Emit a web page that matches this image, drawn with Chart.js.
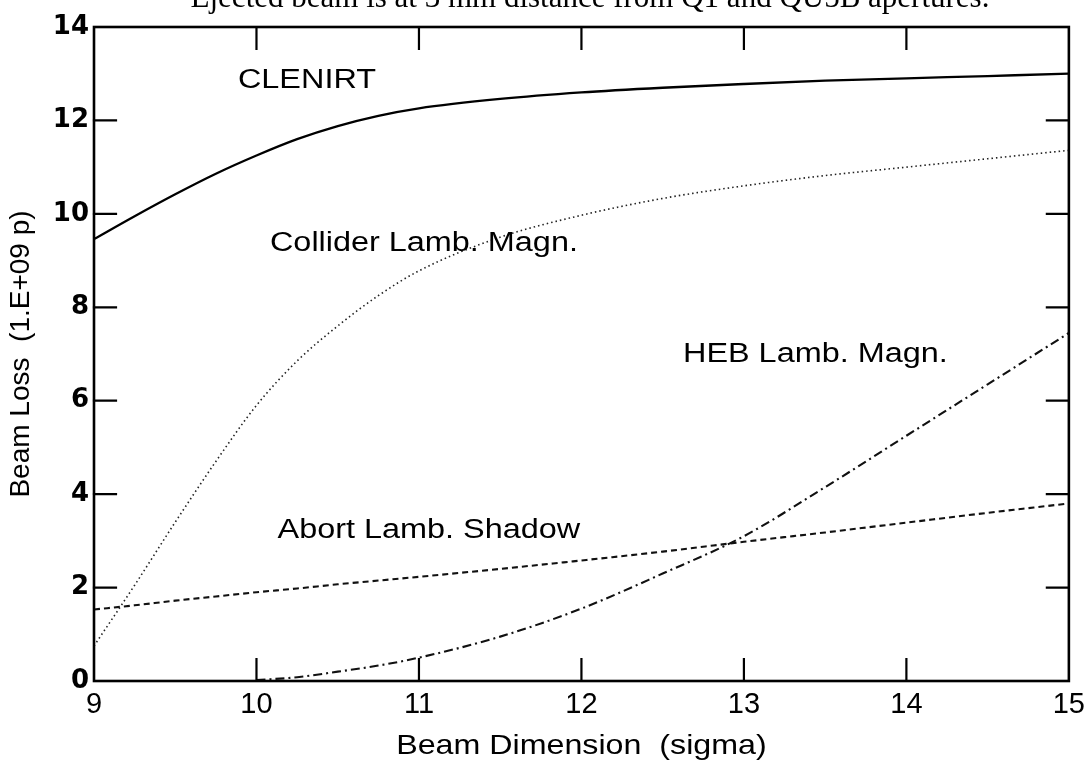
<!DOCTYPE html>
<html>
<head>
<meta charset="utf-8">
<script src="https://cdn.jsdelivr.net/npm/chart.js@4/dist/chart.umd.min.js"></script>
<style>
  html, body { margin: 0; padding: 0; background: #fff; }
  #wrap { width: 1092px; height: 767px; position: relative; }
</style>
</head>
<body>
<div id="wrap"><canvas id="c" width="1092" height="767"></canvas></div>
<script>
// Beam dimension grid (sigma)
const sigma = [9, 9.25, 9.5, 9.75, 10, 10.25, 10.5, 10.75, 11, 11.5, 12, 12.5, 13, 13.5, 14, 14.5, 15];

// Beam loss in units of 1.E+09 protons
const clenirt  = [9.46, 9.95, 10.42, 10.86, 11.25, 11.6, 11.88, 12.1, 12.26, 12.46, 12.6, 12.7, 12.78, 12.85, 12.9, 12.95, 13.0];
const collider = [0.75, 2.05, 3.4, 4.7, 5.9, 6.85, 7.6, 8.25, 8.78, 9.5, 9.97, 10.33, 10.6, 10.82, 11.0, 11.18, 11.36];
const hebMagn  = [null, null, null, null, 0.02, 0.08, 0.2, 0.33, 0.5, 0.95, 1.55, 2.3, 3.1, 4.15, 5.25, 6.35, 7.45];
const abortSh  = [1.53, 1.62, 1.72, 1.81, 1.9, 1.98, 2.07, 2.15, 2.23, 2.4, 2.58, 2.77, 2.98, 3.18, 3.39, 3.6, 3.8];

const xTicks = [9, 10, 11, 12, 13, 14, 15];
const yTicks = [0, 2, 4, 6, 8, 10, 12, 14];

const title = 'Ejected beam is at 3 mm distance from Q1 and QU5B apertures.';
const xTitle = 'Beam Dimension  (sigma)';
const yTitle = 'Beam Loss  (1.E+09 p)';

// Curve captions, anchored in data coordinates (left edge, baseline)
const captions = [
  { text: 'CLENIRT',              x: 9.886,  y: 12.69 },
  { text: 'Collider Lamb. Magn.', x: 10.083, y: 9.2 },
  { text: 'HEB Lamb. Magn.',      x: 12.625, y: 6.82 },
  { text: 'Abort Lamb. Shadow',   x: 10.13,  y: 3.06 }
];

function pts(ys) { return sigma.map((x, i) => ({ x: x, y: ys[i] })); }

function stretchText(ctx, text, x, y, font, sx, align) {
  ctx.save();
  ctx.font = font;
  ctx.textAlign = align || 'left';
  ctx.translate(x, y);
  ctx.scale(sx, 1);
  ctx.fillText(text, 0, 0);
  ctx.restore();
}

// Frame with inward ticks on all four sides, titles and captions
const framePlugin = {
  id: 'frame',
  afterDraw(chart) {
    const ctx = chart.ctx;
    const a = chart.chartArea;
    const xs = chart.scales.x, ys = chart.scales.y;
    const tl = 22;
    ctx.save();
    ctx.strokeStyle = '#000';
    ctx.lineCap = 'square';
    ctx.lineWidth = 2.6;
    ctx.strokeRect(a.left, a.top, a.right - a.left, a.bottom - a.top);
    ctx.lineWidth = 2.2;
    ctx.beginPath();
    xTicks.slice(1, -1).forEach(v => {
      const px = xs.getPixelForValue(v);
      ctx.moveTo(px, a.bottom); ctx.lineTo(px, a.bottom - tl);
      ctx.moveTo(px, a.top);    ctx.lineTo(px, a.top + tl);
    });
    yTicks.slice(1, -1).forEach(v => {
      const py = ys.getPixelForValue(v);
      ctx.moveTo(a.left, py);  ctx.lineTo(a.left + tl, py);
      ctx.moveTo(a.right, py); ctx.lineTo(a.right - tl, py);
    });
    ctx.stroke();

    ctx.fillStyle = '#000';
    ctx.textBaseline = 'alphabetic';
    // title, only its lower half shows at the top edge
    ctx.font = '31px "Liberation Serif", "Times New Roman", serif';
    ctx.textAlign = 'center';
    ctx.fillText(title, 590, 7);

    captions.forEach(c => {
      stretchText(ctx, c.text, xs.getPixelForValue(c.x), ys.getPixelForValue(c.y),
        '27px "Liberation Sans", Arial, sans-serif', 1.2, 'left');
    });

    // axis titles
    stretchText(ctx, xTitle, (a.left + a.right) / 2, 754,
      '28px "Liberation Sans", Arial, sans-serif', 1.15, 'center');
    ctx.save();
    ctx.translate(29, (a.top + a.bottom) / 2);
    ctx.rotate(-Math.PI / 2);
    ctx.font = '28px "Liberation Sans", Arial, sans-serif';
    ctx.textAlign = 'center';
    ctx.fillText(yTitle, 0, 0);
    ctx.restore();
    ctx.restore();
  }
};

new Chart(document.getElementById('c'), {
  type: 'line',
  data: {
    datasets: [
      { label: 'CLENIRT', data: pts(clenirt), borderColor: '#000', borderWidth: 2.3,
        pointRadius: 0, cubicInterpolationMode: 'monotone' },
      { label: 'Collider Lamb. Magn.', data: pts(collider), borderColor: '#222', borderWidth: 1.6,
        borderDash: [1.5, 3], pointRadius: 0, cubicInterpolationMode: 'monotone' },
      { label: 'HEB Lamb. Magn.', data: pts(hebMagn), borderColor: '#111', borderWidth: 2.1,
        borderDash: [9, 4, 2, 4], pointRadius: 0, cubicInterpolationMode: 'monotone', spanGaps: false },
      { label: 'Abort Lamb. Shadow', data: pts(abortSh), borderColor: '#111', borderWidth: 2.1,
        borderDash: [6, 4], pointRadius: 0, cubicInterpolationMode: 'monotone' }
    ]
  },
  options: {
    responsive: false,
    animation: false,
    devicePixelRatio: 1,
    layout: { padding: { top: 27, right: 23, left: 0, bottom: 0 } },
    plugins: { legend: { display: false }, tooltip: { enabled: false }, title: { display: false } },
    scales: {
      x: {
        type: 'linear', min: 9, max: 15,
        afterBuildTicks: s => { s.ticks = xTicks.map(v => ({ value: v })); },
        afterFit: s => { s.height = 86; },
        grid: { display: false, drawTicks: false },
        border: { display: false },
        ticks: { color: '#000', padding: 7, maxRotation: 0,
          font: { family: '"Liberation Sans", Arial, sans-serif', size: 29 } }
      },
      y: {
        type: 'linear', min: 0, max: 14,
        afterBuildTicks: s => { s.ticks = yTicks.map(v => ({ value: v })); },
        afterFit: s => { s.width = 94; },
        grid: { display: false, drawTicks: false },
        border: { display: false },
        ticks: { color: '#000', padding: 5,
          font: { family: '"DejaVu Sans", sans-serif', size: 26, weight: 'bold' } }
      }
    }
  },
  plugins: [framePlugin]
});
</script>
</body>
</html>
